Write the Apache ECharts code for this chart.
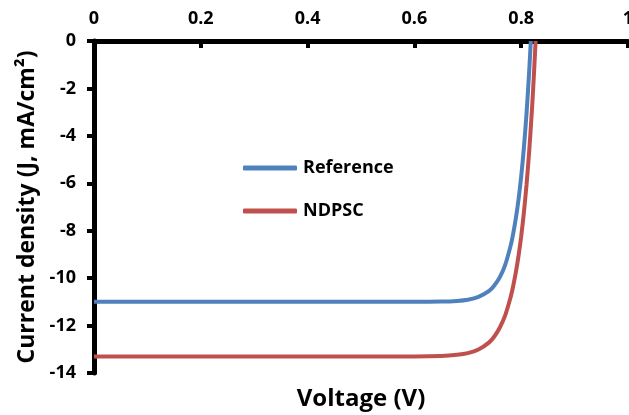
<!DOCTYPE html>
<html>
<head>
<meta charset="utf-8">
<script src="https://cdn.jsdelivr.net/npm/echarts@6/dist/echarts.min.js"></script>
<style>
    html, body { margin: 0; padding: 0; background: #fff; }
    #chart { width: 629px; height: 415px; }
</style>
</head>
<body>
<div id="chart"></div>
<script>
// 数据
const seriesNames = ['Reference', 'NDPSC'];
const referenceVoltage = [0, 0.2, 0.4, 0.6, 0.65, 0.68, 0.70, 0.72, 0.74, 0.75, 0.76, 0.77, 0.78, 0.785, 0.79, 0.795, 0.80, 0.805, 0.81, 0.815, 0.818];
const referenceCurrent = [-11.0, -11.0, -11.0, -11.0, -10.99, -10.96, -10.91, -10.79, -10.54, -10.30, -9.96, -9.44, -8.65, -8.12, -7.47, -6.68, -5.71, -4.51, -3.05, -1.26, 0];
const ndpscVoltage = [0, 0.2, 0.4, 0.6, 0.65, 0.68, 0.70, 0.72, 0.74, 0.75, 0.76, 0.77, 0.78, 0.785, 0.79, 0.795, 0.80, 0.805, 0.81, 0.815, 0.82, 0.823, 0.827];
const ndpscCurrent = [-13.3, -13.3, -13.3, -13.3, -13.28, -13.23, -13.16, -13.01, -12.71, -12.45, -12.08, -11.57, -10.82, -10.33, -9.75, -9.06, -8.23, -7.24, -6.05, -4.64, -2.94, -1.77, 0];

const FONT = '"Open Sans"';

/**
 * 组合电压与电流
 */
const zip = function (xs, ys) {
    return xs.map(function (x, i) {
        return [x, ys[i]];
    });
};

const initChart = function () {
    const option = {
        animation: false,
        backgroundColor: '#fff',
        grid: {
            left: 94,
            right: 1,
            top: 41,
            bottom: 42,
            outerBoundsMode: 'none'
        },
        legend: {
            orient: 'vertical',
            left: 238,
            top: 154,
            icon: 'roundRect',
            itemWidth: 54,
            itemHeight: 5,
            itemGap: 25,
            textStyle: {
                fontFamily: FONT,
                fontWeight: 'bold',
                fontSize: 18,
                color: '#000',
                padding: [0, 0, 0, 1]
            },
            data: seriesNames
        },
        xAxis: {
            type: 'value',
            position: 'top',
            min: 0,
            max: 1,
            interval: 0.2,
            axisLine: {
                show: true,
                onZero: false,
                lineStyle: { color: '#000', width: 5 }
            },
            axisTick: {
                show: true,
                inside: true,
                length: 7,
                lineStyle: { color: '#000', width: 4 }
            },
            axisLabel: {
                margin: 13,
                fontFamily: FONT,
                fontWeight: 'bold',
                fontSize: 18,
                color: '#000'
            },
            splitLine: { show: false }
        },
        yAxis: {
            type: 'value',
            min: -14,
            max: 0,
            interval: 2,
            name: 'Current density (J, mA/cm²)',
            nameLocation: 'middle',
            nameGap: 55,
            nameTextStyle: {
                fontFamily: FONT,
                fontWeight: 'bold',
                fontSize: 23,
                color: '#000'
            },
            axisLine: {
                show: true,
                onZero: false,
                lineStyle: { color: '#000', width: 5 }
            },
            axisTick: {
                show: true,
                length: 7,
                lineStyle: { color: '#000', width: 4 }
            },
            axisLabel: {
                margin: 18,
                fontFamily: FONT,
                fontWeight: 'bold',
                fontSize: 18,
                color: '#000'
            },
            splitLine: { show: false }
        },
        graphic: [{
            type: 'text',
            x: 361,
            y: 399,
            style: {
                text: 'Voltage (V)',
                font: 'bold 24px ' + FONT,
                fill: '#000',
                align: 'center',
                verticalAlign: 'middle'
            }
        }],
        series: [
            {
                name: seriesNames[0],
                type: 'line',
                smooth: 0.3,
                symbol: 'none',
                lineStyle: { color: '#4F81BD', width: 4 },
                itemStyle: { color: '#4F81BD' },
                data: zip(referenceVoltage, referenceCurrent)
            },
            {
                name: seriesNames[1],
                type: 'line',
                smooth: 0.3,
                symbol: 'none',
                lineStyle: { color: '#C0504D', width: 4 },
                itemStyle: { color: '#C0504D' },
                data: zip(ndpscVoltage, ndpscCurrent)
            }
        ]
    };
    const chart = echarts.init(document.getElementById('chart'));
    chart.setOption(option);
};

initChart();
</script>
</body>
</html>
